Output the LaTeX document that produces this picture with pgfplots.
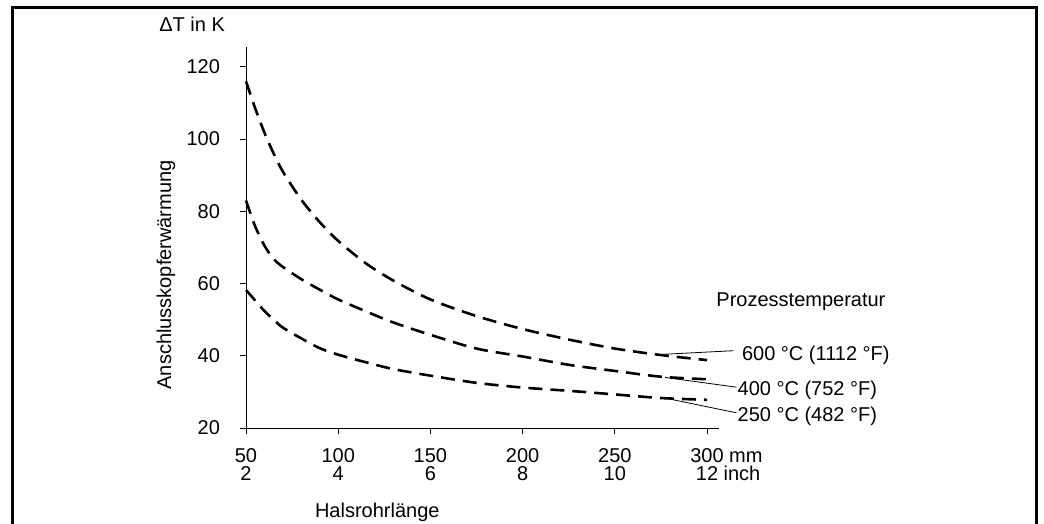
\documentclass[border=0pt]{standalone}
\usepackage{fontspec}
\setmainfont{Liberation Sans}
\usepackage{pgfplots}
\pgfplotsset{compat=1.18}

\begin{document}
\begin{tikzpicture}
\useasboundingbox (0pt,0pt) rectangle (522pt,-262pt);
% frame round the figure (open at the bottom)
\draw[line width=1.5pt] (6pt,-264pt) -- (6pt,-4pt) -- (518pt,-4pt) -- (518pt,-264pt);
\begin{axis}[
    at={(123pt,-214pt)}, anchor=south west,
    scale only axis, width=236.5pt, height=190.5pt,
    xmin=50, xmax=306.5, ymin=20, ymax=125.5,
    axis x line=bottom, axis y line=left,
    axis line style={-, line width=0.5pt},
    tick align=outside, major tick length=3pt,
    tick style={line width=0.5pt, black},
    xtick={50,100,150,200,250,300},
    xticklabels={{50\\[-2.6pt]2},{100\\[-2.6pt]4},{150\\[-2.6pt]6},{200\\[-2.6pt]8},{250\\[-2.6pt]10},{300\rlap{ mm}\\[-2.6pt]12\rlap{ inch}}},
    xticklabel style={align=center, font=\fontsize{10}{12}\selectfont, anchor=north},
    xticklabel shift=3.5pt,
    ytick={20,40,60,80,100,120},
    yticklabel style={font=\fontsize{10}{12}\selectfont, xshift=-6.5pt},
    /pgf/number format/assume math mode=true,
    xlabel={Halsrohrlänge},
    xlabel style={at={(axis description cs:0.131,-0.236)}, anchor=base west, font=\fontsize{10}{12}\selectfont},
    ylabel={Anschlusskopferwärmung},
    ylabel style={at={(axis description cs:-0.169,0.402)}, anchor=center, font=\fontsize{10}{12}\selectfont},
    clip=false,
]
\pgfplotsset{curve/.style={black, no marks, line width=1.3pt, dash pattern=on 7pt off 4pt, smooth, tension=0.5}}
% 600 °C
\addplot[curve] coordinates {
 (50,116) (55,108.5) (60,101.8) (65,96) (70,91) (80,83.2) (90,77) (100,71.8)
 (115,65.6) (130,60.8) (150,55.6) (175,51) (200,47.4) (225,44.5) (250,42)
 (275,40.2) (300,38.8)
};
% 400 °C
\addplot[curve] coordinates {
 (50,83) (55,75.8) (60,70.5) (65,66.8) (70,64.6) (80,61.2) (90,58.3) (100,55.6)
 (115,52.3) (130,49.2) (150,45.8) (175,42) (200,39.8) (225,37.5) (250,35.8)
 (275,34.2) (300,33.5)
};
% 250 °C
\addplot[curve] coordinates {
 (50,58.2) (55,55.3) (60,52.4) (65,50) (70,47.8) (80,44.8) (90,42.1) (100,40.3)
 (115,38.2) (130,36.3) (150,34.5) (175,32.5) (200,31.2) (225,30.3) (250,29.3)
 (275,28.3) (300,27.8)
};
% leader lines and labels
\draw[line width=0.4pt] (axis cs:276.1,40.4) -- (axis cs:314.3,41.4);
\draw[line width=0.4pt] (axis cs:277.2,34.0) -- (axis cs:316.0,31.3);
\draw[line width=0.4pt] (axis cs:276.1,28.4) -- (axis cs:316.0,24.2);
\node[anchor=base west, inner sep=0pt, font=\fontsize{10}{12}\selectfont] at (axis cs:304.9,53.6) {Prozesstemperatur};
\node[anchor=base west, inner sep=0pt, font=\fontsize{10}{12}\selectfont] at (axis cs:318.8,38.8) {600 °C (1112 °F)};
\node[anchor=base west, inner sep=0pt, font=\fontsize{10}{12}\selectfont] at (axis cs:316.4,29.1) {400 °C (752 °F)};
\node[anchor=base west, inner sep=0pt, font=\fontsize{10}{12}\selectfont] at (axis cs:316.4,21.9) {250 °C (482 °F)};
\node[anchor=center, font=\fontsize{10}{12}\selectfont] at (axis description cs:-0.114,1.059) {ΔT in K};
\end{axis}
\end{tikzpicture}
\end{document}
